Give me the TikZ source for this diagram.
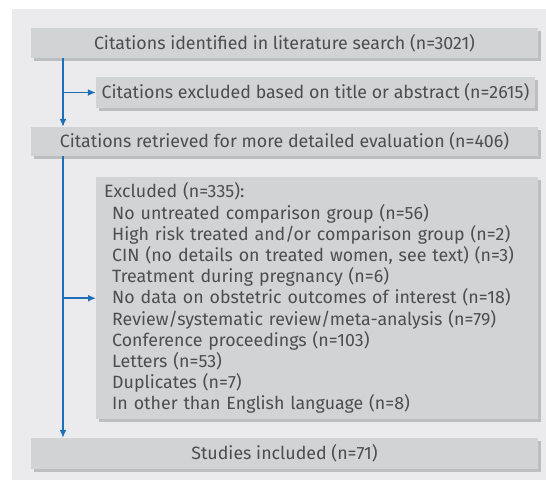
\documentclass[tikz,border=0pt]{standalone}
\usepackage{fontspec}
\setmainfont{Fira Sans}
\usetikzlibrary{arrows.meta,shadows}
\definecolor{bgcol}{HTML}{EBEBED}
\definecolor{boxcol}{HTML}{D2D3D5}
\definecolor{shcol}{HTML}{BDBEC0}
\definecolor{txtcol}{HTML}{4D4D4F}
\definecolor{arrcol}{HTML}{1E6EB8}
\begin{document}
\begin{tikzpicture}[x=1pt,y=-1pt,
  flowbox/.style={fill=boxcol, draw=none, text=txtcol, inner sep=0pt,
    font=\fontsize{17.8}{21.2}\selectfont,
    drop shadow={shadow xshift=3pt, shadow yshift=-3pt, fill=shcol, opacity=1}},
  conn/.style={draw=arrcol, line width=1.5pt, -{Latex[length=8pt,width=7pt]}}]
\useasboundingbox (0,0) rectangle (546,480);
\fill[bgcol] (12,9) rectangle (546,480);
\node[flowbox, minimum width=507pt, minimum height=30pt] (b1) at (284.5,43) {Citations identified in literature search (n=3021)};
\node[flowbox, minimum width=439pt, minimum height=31pt] (b2) at (315.5,92.5) {Citations excluded based on title or abstract (n=2615)};
\node[flowbox, minimum width=507pt, minimum height=29pt] (b3) at (284.5,141.5) {Citations retrieved for more detailed evaluation (n=406)};
\node[flowbox, minimum width=442pt, minimum height=242pt, text width=426pt, inner xsep=8pt, align=left, anchor=north west] (b4) at (96,177) {Excluded (n=335):\\
\hspace*{8pt}No untreated comparison group (n=56)\\
\hspace*{8pt}High risk treated and/or comparison group (n=2)\\
\hspace*{8pt}CIN (no details on treated women, see text) (n=3)\\
\hspace*{8pt}Treatment during pregnancy (n=6)\\
\hspace*{8pt}No data on obstetric outcomes of interest (n=18)\\
\hspace*{8pt}Review/systematic review/meta-analysis (n=79)\\
\hspace*{8pt}Conference proceedings (n=103)\\
\hspace*{8pt}Letters (n=53)\\
\hspace*{8pt}Duplicates (n=7)\\
\hspace*{8pt}In other than English language (n=8)};
\node[flowbox, minimum width=507pt, minimum height=31pt] (b5) at (284.5,453.5) {Studies included (n=71)};
\coordinate (vx) at (63,0);
\draw[conn] (vx |- b1.south) -- (vx |- b3.north);
\draw[conn] (vx |- b2.west) -- (b2.west);
\draw[conn] (vx |- b3.south) -- (vx |- b5.north);
\draw[conn] (vx |- b4.west) -- (b4.west);
\end{tikzpicture}
\end{document}
